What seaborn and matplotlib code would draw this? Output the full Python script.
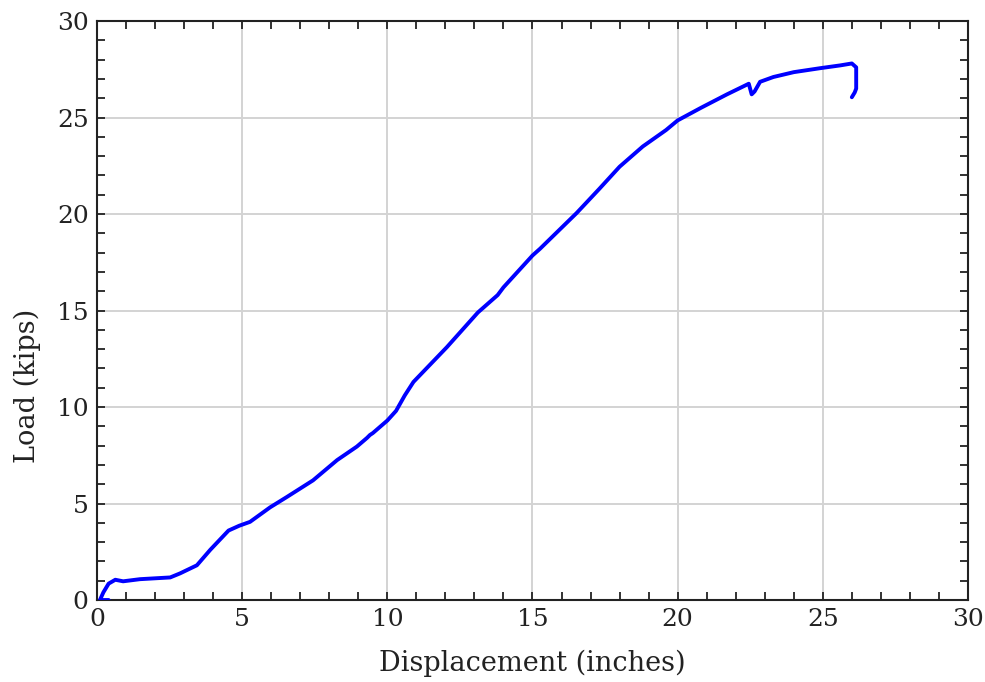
import numpy as np
import pandas as pd
import seaborn as sns
from matplotlib import pyplot as plt
from matplotlib.ticker import MultipleLocator

# values
disp = [0.4, 0.1, 0.22, 0.4, 0.63, 0.9, 1.48, 2.52, 2.86, 3.44, 3.9, 4.53, 4.9,
        5.27, 5.96, 6.54, 7.44, 8.27, 8.95, 9.3, 9.4, 9.5, 10.0, 10.3, 10.6,
        10.9, 12.05, 13.12, 13.8, 14.0, 15.0, 15.26, 16.52, 17.3, 18.0,
        18.8, 19.6, 20.0, 20.8, 21.7, 22.45, 22.55, 22.65, 22.84, 23.3, 24.0,
        24.93, 25.6, 26.0, 26.15, 26.15, 26.1, 26.0]
load = [0.0, 0.0, 0.4, 0.85, 1.05, 0.97, 1.08, 1.17, 1.38, 1.8, 2.6, 3.6, 3.85,
        4.05, 4.8, 5.34, 6.2, 7.25, 7.95, 8.4, 8.55, 8.65, 9.3, 9.8, 10.6,
        11.3, 13.1, 14.9, 15.8, 16.2, 17.85, 18.2, 20.05, 21.3, 22.45,
        23.5, 24.35, 24.85, 25.5, 26.2, 26.75, 26.2, 26.35, 26.85, 27.1, 27.35,
        27.56, 27.7, 27.8, 27.6, 26.5, 26.3, 26.05]

df = pd.DataFrame({'Displacement': disp, 'Load': load})

sns.set_style('white')
plt.rcParams['font.family'] = ['DejaVu Serif']

fig = plt.figure(figsize=(9.85, 6.82), dpi=100)
ax = fig.add_axes([0.0985, 0.1202, 0.8842, 0.849])

sns.lineplot(data=df, x='Displacement', y='Load', sort=False, estimator=None,
             color='#0000ff', linewidth=2.8, ax=ax, zorder=3)

ax.set_xlim(0, 30)
ax.set_ylim(0, 30)
ax.xaxis.set_major_locator(MultipleLocator(5))
ax.yaxis.set_major_locator(MultipleLocator(5))
ax.xaxis.set_minor_locator(MultipleLocator(1))
ax.yaxis.set_minor_locator(MultipleLocator(1))
ax.grid(True, which='major', color='#d3d3d3', linewidth=1.4, zorder=0)
ax.tick_params(which='both', direction='in', top=True, right=True,
               bottom=True, left=True, length=6, width=1.3,
               color='#222222', labelsize=18, pad=6, labelcolor='#222222')
for s in ax.spines.values():
    s.set_color('#222222')
    s.set_linewidth(1.5)

ax.set_xlabel('Displacement (inches)', fontsize=19.5, labelpad=13,
              color='#222222')
ax.set_ylabel('Load (kips)', fontsize=19.5, color='#222222')
ax.yaxis.set_label_coords(-0.064, 0.37)

fig.savefig('out.png', dpi=100)
